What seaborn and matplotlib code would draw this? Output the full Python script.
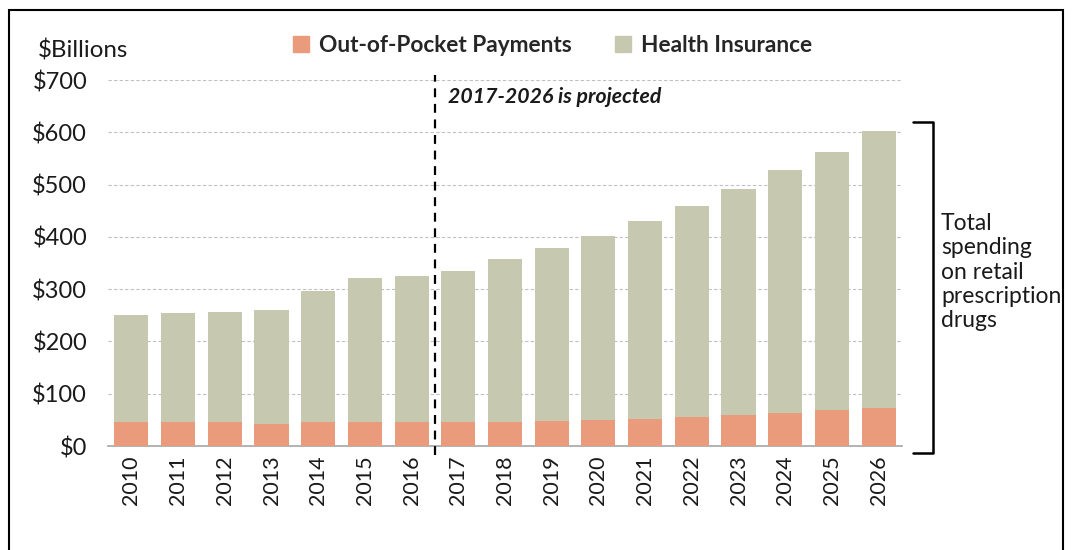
import matplotlib
matplotlib.use("Agg")
import matplotlib.pyplot as plt
import matplotlib.patches as mpatches
from matplotlib.lines import Line2D
import seaborn as sns
import pandas as pd
import numpy as np

years = [str(y) for y in range(2010, 2027)]
out_of_pocket = [46, 46, 46, 43, 46, 46, 46, 46, 46, 48, 50, 52, 56, 59, 63, 68, 73]
total_spending = [250, 254, 257, 261, 296, 322, 326, 335, 358, 379, 402, 430, 460, 492, 527, 562, 602]
health_insurance = [t - o for t, o in zip(total_spending, out_of_pocket)]
y_ticks = [0, 100, 200, 300, 400, 500, 600, 700]
y_tick_labels = ["$0", "$100", "$200", "$300", "$400", "$500", "$600", "$700"]

OOP_COLOR = "#E99B7B"
HI_COLOR = "#C7C8B0"

sns.set_theme(style="white")
plt.rcParams['font.family'] = ['Lato', 'DejaVu Sans']

df = pd.DataFrame({"year": years, "oop": out_of_pocket, "hi": health_insurance,
                   "total": total_spending})

fig = plt.figure(figsize=(10.73, 5.50), dpi=100)
ax = fig.add_axes([0.1007, 0.189, 0.7399, 0.6655])

sns.barplot(data=df, x="year", y="total", color=HI_COLOR, width=0.73,
            saturation=1, ax=ax, zorder=2, linewidth=0)
sns.barplot(data=df, x="year", y="oop", color=OOP_COLOR, width=0.73,
            saturation=1, ax=ax, zorder=3, linewidth=0)

ax.set_ylim(0, 700)
ax.set_xlim(-0.5, len(years) - 0.5)
ax.set_yticks(y_ticks)
ax.set_yticklabels(y_tick_labels, fontsize=17, color="#1a1a1a")
ax.set_xlabel("")
ax.set_ylabel("")
ax.tick_params(axis="x", which="major", length=0, labelsize=15.5, labelrotation=90,
               pad=7, labelcolor="#1a1a1a")
ax.tick_params(axis="y", length=0, pad=15)
ax.set_xticks(np.arange(-0.5, len(years), 1), minor=True)
ax.tick_params(axis="x", which="minor", length=6, width=1, color="#A6A6A6",
               direction="out")
ax.yaxis.grid(True, linestyle=(0, (3, 2)), color="#C0C0C0", linewidth=0.8, zorder=0)
ax.set_axisbelow(True)
for s in ["top", "right", "left"]:
    ax.spines[s].set_visible(False)
ax.spines["bottom"].set_color("#A6A6A6")
ax.spines["bottom"].set_linewidth(1.2)

# projection divider
ax.plot([6.5, 6.5], [-17, 709], linestyle=(0, (4, 3)), color="black", lw=1.6,
        clip_on=False, zorder=5)
ax.text(6.78, 667, "2017-2026 is projected", fontsize=15.3, fontweight="bold",
        fontstyle="italic", va="center", ha="left", color="#1a1a1a")

# legend
handles = [mpatches.Patch(color=OOP_COLOR, label="Out-of-Pocket Payments"),
           mpatches.Patch(color=HI_COLOR, label="Health Insurance")]
leg = fig.legend(handles=handles, loc="center", bbox_to_anchor=(0.515, 0.918),
                 ncol=2, frameon=False, handlelength=0.7, handleheight=0.7,
                 handletextpad=0.45, columnspacing=1.9,
                 prop={"size": 16.3, "weight": "bold"})

fig.text(38 / 1073, 1 - 50 / 550, "$Billions", fontsize=17.4, va="center", ha="left",
         color="#1a1a1a")

# bracket
bx = 933 / 1073
bl = 913 / 1073
bt = 1 - 122 / 550
bb = 1 - 453 / 550
fig.add_artist(Line2D([bl, bx, bx, bl], [bt, bt, bb, bb], color="black", lw=1.8,
                      transform=fig.transFigure))
fig.text(941 / 1073, 1 - 272 / 550,
         "Total\nspending\non retail\nprescription\ndrugs",
         fontsize=16.5, va="center", ha="left", linespacing=1.2, color="#1a1a1a")

# outer frame
fig.add_artist(mpatches.Rectangle((9 / 1073, -0.1), (1063 - 9) / 1073,
                                  1 - 10 / 550 + 0.1, fill=False, edgecolor="black",
                                  lw=1.5, transform=fig.transFigure, clip_on=False))

fig.savefig("out.png", dpi=100)
